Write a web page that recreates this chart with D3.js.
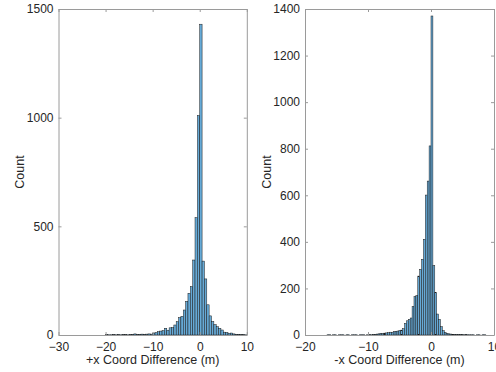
<!DOCTYPE html>
<html><head><meta charset="utf-8">
<script src="https://cdn.jsdelivr.net/npm/d3@7"></script>
<style>body{margin:0;background:#fff} svg{display:block}</style>
</head><body>
<svg id="c" width="496" height="372"></svg>
<script>
// ---- data ----
const leftBinStart = -20, leftBinWidth = 0.5;
const leftCounts = [
  2,1,1,2,1,2,1,2,2,1,      // -20 .. -15.5
  2,3,5,3,3,4,3,4,5,4,      // -15 .. -10.5
  9,11,15,18,20,31,22,33,34,46, // -10 .. -5.5
  61,80,86,115,155,192,223,345,540,1010, // -5 .. -0.5
  1430,340,258,139,88,62,48,38,31,23,    // 0 .. 4.5
  13,12,8,9,5,3,3,2,2,1                  // 5 .. 9.5
];
const rightBinStart = -16.5, rightBinWidth = 0.3;
const rightCounts = [
  1,1,0,1,1,0,1,1,1,0,      // -16.5 .. -13.8
  1,1,0,1,1,1,0,1,1,1,      // -13.5 .. -10.8
  0,1,2,1,2,3,4,5,7,6,      // -10.5 .. -7.8
  8,9,10,12,11,14,16,17,19,21, // -7.5 .. -4.8
  27,50,61,67,73,122,165,169,253,282, // -4.5 .. -1.8
  325,411,601,661,812,1370,298,182,90,67, // -1.5 .. 1.2
  36,19,11,7,5,4,3,3,2,2,   // 1.5 .. 4.2
  2,2,1,2,1,1,1,1,0,1,      // 4.5 .. 7.2
  1,0,1,1                   // 7.5 .. 8.4
];
const leftXTicks = [-30,-20,-10,0,10];
const leftYTicks = [0,500,1000,1500];
const rightXTicks = [-20,-10,0,10];
const rightYTicks = [0,200,400,600,800,1000,1200,1400];
const xLabels = ["+x Coord Difference (m)", "-x Coord Difference (m)"];
const yLabel = "Count";

// ---- drawing ----
const svg = d3.select("#c");
const plotTop = 9, plotBottom = 335;
const textColor = "#262626";

function panel(o) {
  const x = d3.scaleLinear().domain(o.xDomain).range([o.x0, o.x1]);
  const y = d3.scaleLinear().domain(o.yDomain).range([plotBottom, plotTop]);
  const g = svg.append("g");

  const bins = o.counts.map((c, i) => ({
    a: o.start + i * o.width, b: o.start + (i + 1) * o.width, c
  })).filter(d => d.c > 0);

  g.selectAll("rect.bar").data(bins).join("rect")
    .attr("class", "bar")
    .attr("x", d => x(d.a))
    .attr("width", d => x(d.b) - x(d.a))
    .attr("y", d => y(d.c))
    .attr("height", d => y(0) - y(d.c))
    .attr("fill", "rgb(102,170,215)")
    .attr("stroke", "#1a1a1a")
    .attr("stroke-width", 0.5);

  const fmt = d3.format("d");
  const style = sel => {
    sel.select(".domain").attr("stroke", "#9a9a9a");
    sel.selectAll(".tick line").attr("stroke", "#9a9a9a");
    sel.selectAll(".tick text").attr("fill", textColor)
      .style("font-family", "'Liberation Sans', Arial, sans-serif")
      .style("font-size", "12px");
  };
  g.append("g").attr("transform", `translate(0,${plotBottom})`)
    .call(d3.axisBottom(x).tickValues(o.xTicks).tickFormat(fmt).tickSizeInner(-3).tickSizeOuter(0).tickPadding(7))
    .call(style);
  g.append("g").attr("transform", `translate(0,${plotTop})`)
    .call(d3.axisTop(x).tickValues(o.xTicks).tickFormat("").tickSizeInner(-3).tickSizeOuter(0))
    .call(style);
  g.append("g").attr("transform", `translate(${o.x0},0)`)
    .call(d3.axisLeft(y).tickValues(o.yTicks).tickFormat(fmt).tickSizeInner(-3).tickSizeOuter(0).tickPadding(5))
    .call(style);
  g.append("g").attr("transform", `translate(${o.x1},0)`)
    .call(d3.axisRight(y).tickValues(o.yTicks).tickFormat("").tickSizeInner(-3).tickSizeOuter(0))
    .call(style);
  g.selectAll(".domain").attr("fill", "none");

  g.append("text")
    .attr("x", (o.x0 + o.x1) / 2).attr("y", 364)
    .attr("text-anchor", "middle")
    .attr("fill", textColor)
    .style("font-family", "'Liberation Sans', Arial, sans-serif")
    .style("font-size", "12.5px")
    .text(o.xLabel);
  g.append("text")
    .attr("transform", `translate(${o.yLabelX},${(plotTop + plotBottom) / 2}) rotate(-90)`)
    .attr("text-anchor", "middle")
    .attr("fill", textColor)
    .style("font-family", "'Liberation Sans', Arial, sans-serif")
    .style("font-size", "12.5px")
    .text(yLabel);
}

panel({ x0: 58.5, x1: 246.8, xDomain: [-30, 10], yDomain: [0, 1500],
        start: leftBinStart, width: leftBinWidth, counts: leftCounts,
        xTicks: leftXTicks, yTicks: leftYTicks, xLabel: xLabels[0], yLabelX: 24 });
panel({ x0: 305, x1: 494, xDomain: [-20, 10], yDomain: [0, 1400],
        start: rightBinStart, width: rightBinWidth, counts: rightCounts,
        xTicks: rightXTicks, yTicks: rightYTicks, xLabel: xLabels[1], yLabelX: 271 });
</script>
</body></html>
